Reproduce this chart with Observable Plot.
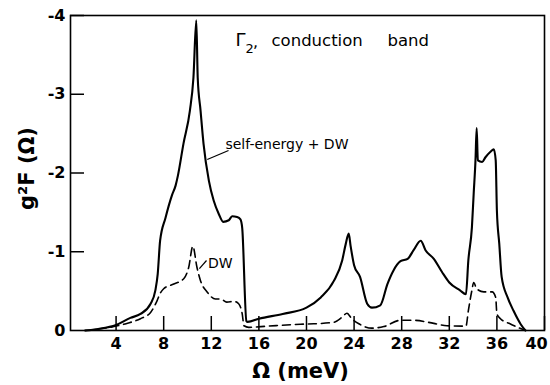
<!DOCTYPE html>
<html>
<head>
<meta charset="utf-8">
<script src="https://cdn.jsdelivr.net/npm/d3@7"></script>
<script src="https://cdn.jsdelivr.net/npm/@observablehq/plot@0.6"></script>
<style>
  html, body { margin: 0; padding: 0; background: white; }
</style>
</head>
<body>
<div id="chart"></div>
<script>
// Ω (meV) and g²F(Ω) for the "self-energy + DW" curve (solid)
const omegaSolid = [1.4, 2.5, 4.0, 5.2, 6.05, 6.9, 7.3, 7.5, 7.7, 8.15, 8.7, 9.0, 9.2, 9.66, 10.2, 10.5, 10.74,
  10.86, 11.1, 11.35, 11.8, 12.2, 12.63, 13.0, 13.47, 13.75, 14.17, 14.45, 14.6, 14.95, 15.05, 16.0, 18.0, 20.0,
  21.2, 22.3, 23.0, 23.3, 23.55, 23.7, 24.0, 24.5, 25.1, 25.5, 26.2, 26.8, 27.3, 27.9, 28.5, 29.0, 29.6, 30.0,
  30.7, 31.4, 32.0, 32.9, 33.4, 33.6, 33.9, 34.05, 34.2, 34.3, 34.4, 34.76, 35.04, 35.46, 35.74, 35.9, 36.0,
  36.2, 36.4, 36.9, 37.4, 38.0, 38.4];
const g2fSolid = [0, -0.02, -0.07, -0.16, -0.21, -0.34, -0.51, -0.72, -1.14, -1.43, -1.72, -1.84, -1.97, -2.37, -2.79, -3.21, -3.94,
  -3.21, -2.79, -2.37, -1.90, -1.65, -1.48, -1.38, -1.40, -1.45, -1.44, -1.41, -1.30, -0.12, -0.11, -0.15, -0.21, -0.29,
  -0.42, -0.63, -0.89, -1.10, -1.23, -1.08, -0.83, -0.68, -0.34, -0.29, -0.32, -0.59, -0.76, -0.88, -0.91, -1.02, -1.14, -1.02,
  -0.91, -0.74, -0.61, -0.51, -0.46, -0.89, -1.31, -1.74, -2.16, -2.57, -2.16, -2.14, -2.20, -2.27, -2.30, -2.16, -1.52,
  -1.10, -0.68, -0.42, -0.25, -0.08, 0];

// Ω (meV) and g²F(Ω) for the "DW" curve (dashed)
const omegaDW = [1.4, 3.5, 4.9, 6.05, 6.9, 7.45, 7.7, 8.0, 8.85, 9.7, 10.1, 10.45, 10.8, 11.1, 11.65, 12.35, 12.8,
  13.3, 13.9, 14.3, 14.6, 14.75, 15.15, 16.7, 19.5, 20.6, 22.3, 23.0, 23.4, 23.8, 24.4, 25.5, 26.5, 27.9, 29.0,
  30.7, 31.8, 33.4, 33.6, 33.9, 34.05, 34.3, 34.9, 35.6, 35.9, 36.0, 36.3, 37.1, 38.4];
const g2fDW = [0, -0.04, -0.09, -0.15, -0.23, -0.38, -0.47, -0.53, -0.59, -0.66, -0.80, -1.07, -0.80, -0.63, -0.49, -0.40, -0.40,
  -0.36, -0.37, -0.34, -0.21, -0.06, -0.04, -0.055, -0.08, -0.085, -0.105, -0.17, -0.22, -0.15, -0.085, -0.03, -0.05, -0.13, -0.13,
  -0.09, -0.06, -0.055, -0.25, -0.51, -0.61, -0.53, -0.49, -0.49, -0.42, -0.21, -0.15, -0.085, 0];

const xTicks = [4, 8, 12, 16, 20, 24, 28, 32, 36, 40];
const yTicks = [0, -1, -2, -3, -4];
const yTickLabels = ["0", "-1", "-2", "-3", "-4"];

const solid = omegaSolid.map((x, i) => ({x, y: g2fSolid[i]}));
const dw = omegaDW.map((x, i) => ({x, y: g2fDW[i]}));

const font = "'DejaVu Sans', 'Liberation Sans', sans-serif";
const lastTick = xTicks[xTicks.length - 1];

const chart = Plot.plot({
  width: 550,
  height: 385,
  marginLeft: 70,
  marginRight: 6,
  marginTop: 15,
  marginBottom: 55,
  style: {fontFamily: font, fontSize: "16px", background: "white", color: "black"},
  x: {domain: [0.17, 40]},
  y: {domain: [0, -4]},
  marks: [
    Plot.frame({stroke: "black", strokeWidth: 1.6}),
    Plot.tickX(xTicks, {x: d => d, insetTop: 301, stroke: "black", strokeWidth: 1.5}),
    Plot.tickY(yTicks.filter(d => d !== 0), {y: d => d, insetRight: 460, stroke: "black", strokeWidth: 1.5}),
    Plot.axisX({ticks: xTicks.filter(d => d !== lastTick), tickSize: 0, tickPadding: 7, fontSize: 16, fontWeight: "bold", label: null}),
    Plot.text([lastTick], {x: d => d, frameAnchor: "bottom", dy: 7, dx: -8, lineAnchor: "top", fontSize: 16, fontWeight: "bold"}),
    Plot.axisY({ticks: yTicks, tickSize: 0, tickPadding: 5, fontSize: 16, fontWeight: "bold", label: null,
      tickFormat: d => yTickLabels[yTicks.indexOf(d)]}),
    Plot.line(solid, {x: "x", y: "y", stroke: "black", strokeWidth: 2.1, curve: "monotone-x"}),
    Plot.line(dw, {x: "x", y: "y", stroke: "black", strokeWidth: 1.6, strokeDasharray: "8,5", curve: "monotone-x"}),
    // axis titles
    Plot.text(["g²F (Ω)"], {frameAnchor: "left", dx: -37, dy: -4.5, rotate: -90, textAnchor: "middle", lineAnchor: "bottom",
      fontSize: 21, fontWeight: "bold"}),
    Plot.text(["Ω (meV)"], {frameAnchor: "bottom", dx: -7, dy: 47, lineAnchor: "bottom", fontSize: 21, fontWeight: "bold", letterSpacing: 1.5}),
    // annotations
    Plot.text(["Γ"], {x: 14.03, y: -3.619, textAnchor: "start", lineAnchor: "bottom", fontSize: 18}),
    Plot.text(["2"], {x: 14.87, y: -3.53, textAnchor: "start", lineAnchor: "bottom", fontSize: 13}),
    Plot.text([","], {x: 15.5, y: -3.606, textAnchor: "start", lineAnchor: "bottom", fontSize: 16}),
    Plot.text(["conduction"], {x: 17.06, y: -3.619, textAnchor: "start", lineAnchor: "bottom", fontSize: 16.5}),
    Plot.text(["band"], {x: 26.81, y: -3.619, textAnchor: "start", lineAnchor: "bottom", fontSize: 16.5}),
    Plot.text(["self-energy + DW"], {x: 13.19, y: -2.311, textAnchor: "start", lineAnchor: "bottom", fontSize: 14}),
    Plot.link([0], {x1: 13.45, y1: -2.286, x2: 11.66, y2: -2.171, stroke: "black", strokeWidth: 1.2}),
    Plot.text(["DW"], {x: 11.72, y: -0.8, textAnchor: "start", lineAnchor: "bottom", fontSize: 14}),
    Plot.link([0], {x1: 11.6, y1: -0.889, x2: 11.0, y2: -0.787, stroke: "black", strokeWidth: 1.2})
  ]
});

document.getElementById("chart").appendChild(chart);
</script>
</body>
</html>
